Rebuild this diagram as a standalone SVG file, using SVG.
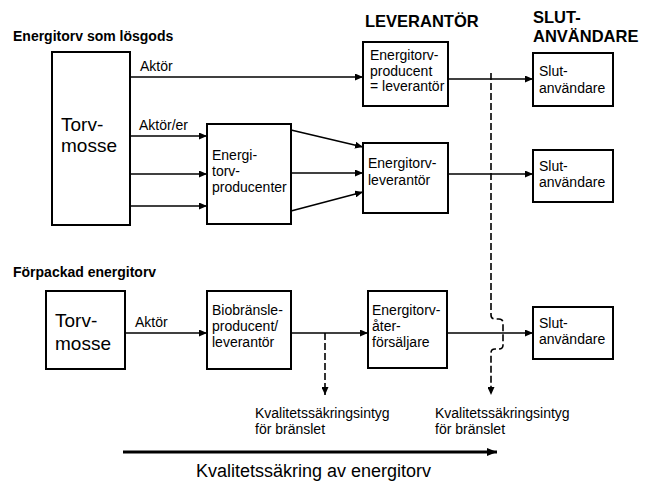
<svg xmlns="http://www.w3.org/2000/svg" width="645" height="483" viewBox="0 0 645 483">
<style>
text{font-family:"Liberation Sans",Arial,sans-serif;fill:#000}
.b{font-size:14px}
.h{font-size:14px;font-weight:bold}
.H{font-size:16.5px;font-weight:bold}
.t{font-size:19px}
.box{fill:#fff;stroke:#000;stroke-width:2}
.ln{fill:none;stroke:#000;stroke-width:1.6}
.ds{fill:none;stroke:#000;stroke-width:1.6;stroke-dasharray:7 3}
</style>
<defs>
<marker id="a" viewBox="0 0 8 7" refX="8" refY="3.5" markerWidth="8" markerHeight="7" markerUnits="userSpaceOnUse" orient="auto"><path d="M0,0L8,3.5L0,7z" fill="#000"/></marker>
<marker id="A" viewBox="0 0 10 8" refX="10" refY="4" markerWidth="10" markerHeight="8" markerUnits="userSpaceOnUse" orient="auto"><path d="M0,0L10,4L0,8z" fill="#000"/></marker>
</defs>
<rect width="645" height="483" fill="#fff"/>
<text class="h" x="13" y="41">Energitorv som lösgods</text>
<text class="h" x="13" y="277">Förpackad energitorv</text>
<text class="H" x="365" y="27">LEVERANTÖR</text>
<text class="H" x="533" y="23">SLUT-</text>
<text class="H" x="533" y="42">ANVÄNDARE</text>
<g id="connectors">
<path class="ln" d="M130,77H363" marker-end="url(#a)"/>
<path class="ln" d="M448,79H533" marker-end="url(#a)"/>
<path class="ln" d="M130,136H207" marker-end="url(#a)"/>
<path class="ln" d="M130,174H207" marker-end="url(#a)"/>
<path class="ln" d="M130,206H207" marker-end="url(#a)"/>
<path class="ln" d="M291,130L363,147" marker-end="url(#a)"/>
<path class="ln" d="M291,173H363" marker-end="url(#a)"/>
<path class="ln" d="M291,211L363,192" marker-end="url(#a)"/>
<path class="ln" d="M448,174H533" marker-end="url(#a)"/>
<path class="ln" d="M125,333H207" marker-end="url(#a)"/>
<path class="ln" d="M291,333H368" marker-end="url(#a)"/>
<path class="ln" d="M447,333H533" marker-end="url(#a)"/>
<path class="ds" d="M325,333V395" marker-end="url(#a)"/>
<path class="ds" d="M491,73V315Q491,319 495,319H499Q503,319 503,323V345Q503,349 499,349H495Q491,349 491,353V395" marker-end="url(#a)"/>
<path fill="none" stroke="#000" stroke-width="3" d="M123,452H497" marker-end="url(#A)"/>
<text class="b" x="140" y="71">Aktör</text>
<text class="b" x="139" y="130">Aktör/er</text>
<text class="b" x="135" y="327">Aktör</text>
</g>
<g id="torvmosse1"><rect class="box" x="52" y="52" width="78" height="173"/><text class="t" x="61" y="131">Torv-</text><text class="t" x="61" y="152">mosse</text></g>
<g id="producenter"><rect class="box" x="207" y="124" width="84" height="100"/><text class="b" x="212" y="160">Energi-</text><text class="b" x="212" y="176">torv-</text><text class="b" x="212" y="192">producenter</text></g>
<g id="producent-leverantor"><rect class="box" x="363" y="42" width="85" height="64"/><text class="b" x="370" y="60">Energitorv-</text><text class="b" x="370" y="75.5">producent</text><text class="b" x="370" y="91">= leverantör</text></g>
<g id="leverantor"><rect class="box" x="363" y="143" width="85" height="70"/><text class="b" x="368" y="168">Energitorv-</text><text class="b" x="368" y="185">leverantör</text></g>
<g id="slut1"><rect class="box" x="533" y="53" width="80" height="53"/><text class="b" x="539" y="76">Slut-</text><text class="b" x="539" y="93">användare</text></g>
<g id="slut2"><rect class="box" x="533" y="150" width="80" height="52"/><text class="b" x="539" y="171">Slut-</text><text class="b" x="539" y="187">användare</text></g>
<g id="torvmosse2"><rect class="box" x="46" y="291" width="79" height="78"/><text class="t" x="55" y="327">Torv-</text><text class="t" x="55" y="350">mosse</text></g>
<g id="biobransle"><rect class="box" x="207" y="291" width="84" height="78"/><text class="b" x="212" y="315">Biobränsle-</text><text class="b" x="212" y="331">producent/</text><text class="b" x="212" y="347">leverantör</text></g>
<g id="aterforsaljare"><rect class="box" x="368" y="291" width="79" height="77"/><text class="b" x="372" y="315">Energitorv-</text><text class="b" x="372" y="331">åter-</text><text class="b" x="372" y="347">försäljare</text></g>
<g id="slut3"><rect class="box" x="533" y="307" width="80" height="52"/><text class="b" x="539" y="328">Slut-</text><text class="b" x="539" y="344">användare</text></g>
<g id="intyg1"><text class="b" x="255" y="418">Kvalitetssäkringsintyg</text><text class="b" x="255" y="434">för bränslet</text></g>
<g id="intyg2"><text class="b" x="435" y="418">Kvalitetssäkringsintyg</text><text class="b" x="435" y="434">för bränslet</text></g>
<text x="196" y="477" style="font-size:18px">Kvalitetssäkring av energitorv</text>
</svg>
